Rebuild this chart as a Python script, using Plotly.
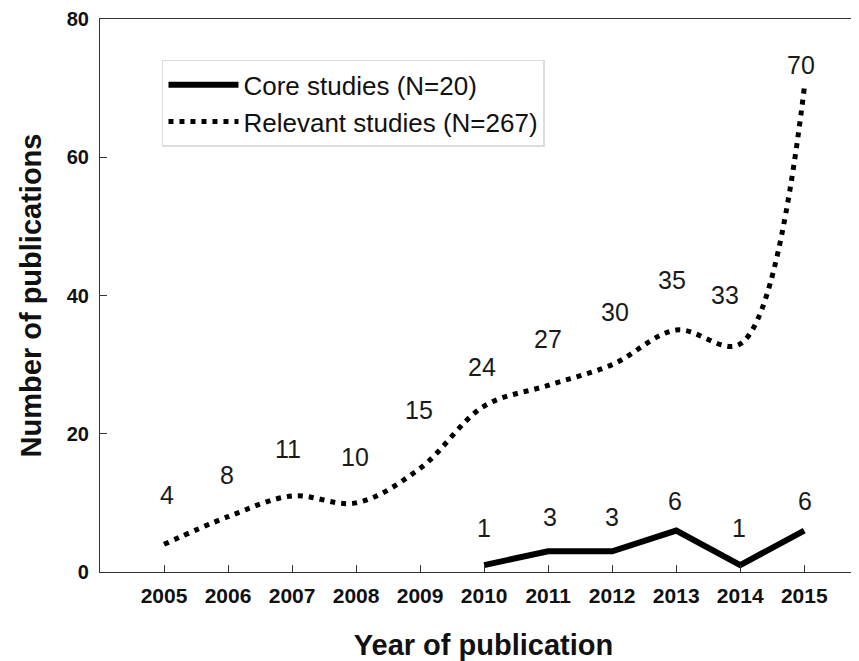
import plotly.graph_objects as go

years_rel = [2005, 2006, 2007, 2008, 2009, 2010, 2011, 2012, 2013, 2014, 2015]
relevant = [4, 8, 11, 10, 15, 24, 27, 30, 35, 33, 70]
years_core = [2010, 2011, 2012, 2013, 2014, 2015]
core = [1, 3, 3, 6, 1, 6]
x_ticks = [2005, 2006, 2007, 2008, 2009, 2010, 2011, 2012, 2013, 2014, 2015]
y_ticks = [0, 20, 40, 60, 80]

# label placement (pixels above each point, and horizontal nudges)
rel_dy = [49, 42, 47, 46, 58, 39, 46, 53, 50, 49, 23]
rel_dx = [3, -1, -4, -1, -1, -2, 0, 3, -4, -15, -3]
core_dy = [37, 34, 34, 30, 37, 30]
core_dx = [0, 2, 0, -1, -1, 1]

fig = go.Figure()
fig.add_trace(go.Scatter(
    x=years_core, y=core, mode="lines", name="Core studies (N=20)",
    line=dict(color="black", width=6), cliponaxis=False))
fig.add_trace(go.Scatter(
    x=years_rel, y=relevant, mode="lines", name="Relevant studies (N=267)",
    line=dict(color="black", width=5, dash="5px,6px", shape="spline", smoothing=1),
    cliponaxis=False))

ann = []
for xv, yv, dy, dx in zip(years_rel, relevant, rel_dy, rel_dx):
    ann.append(dict(x=xv, y=yv, text=str(yv), showarrow=False, yshift=dy, xshift=dx,
                    font=dict(family="Liberation Sans, Arial", size=25, color="#1a1a1a")))
for xv, yv, dy, dx in zip(years_core, core, core_dy, core_dx):
    ann.append(dict(x=xv, y=yv, text=str(yv), showarrow=False, yshift=dy, xshift=dx,
                    font=dict(family="Liberation Sans, Arial", size=25, color="#1a1a1a")))

fig.update_layout(
    width=859, height=661,
    margin=dict(l=92, r=0, t=11, b=97, autoexpand=False),
    paper_bgcolor="white", plot_bgcolor="white",
    font=dict(family="Liberation Sans, Arial", color="#111"),
    showlegend=True,
    legend=dict(x=0.0808, y=0.926, xanchor="left", yanchor="top",
                bgcolor="white", bordercolor="#dcdcdc", borderwidth=1.5,
                font=dict(size=26, color="#111"), itemwidth=70,
                traceorder="normal"),
    annotations=ann,
)
fig.update_xaxes(
    range=[2004, 2015.98], tickvals=x_ticks, ticktext=[str(v) for v in x_ticks],
    ticks="inside", ticklen=7, tickcolor="#333", tickwidth=1,
    showline=True, linecolor="#333", linewidth=1.2, mirror=True,
    showgrid=False, zeroline=False,
    tickfont=dict(size=21, family="Liberation Sans, Arial", color="#111", weight="bold"),
    ticklabelstandoff=5, automargin=False,
    title=dict(text="<b>Year of publication</b>", font=dict(size=29, color="#111"), standoff=28),
)
fig.update_yaxes(
    range=[0, 80], tickvals=y_ticks,
    ticks="inside", ticklen=7, tickcolor="#333", tickwidth=1,
    showline=True, linecolor="#333", linewidth=1.2, mirror=False,
    showgrid=False, zeroline=False,
    tickfont=dict(size=20, family="Liberation Sans, Arial", color="#111", weight="bold"),
    ticklabelstandoff=6, automargin=False,
    title=dict(text="<b>Number of publications</b>", font=dict(size=29, color="#111"), standoff=16),
)

fig.write_html("out.html")
